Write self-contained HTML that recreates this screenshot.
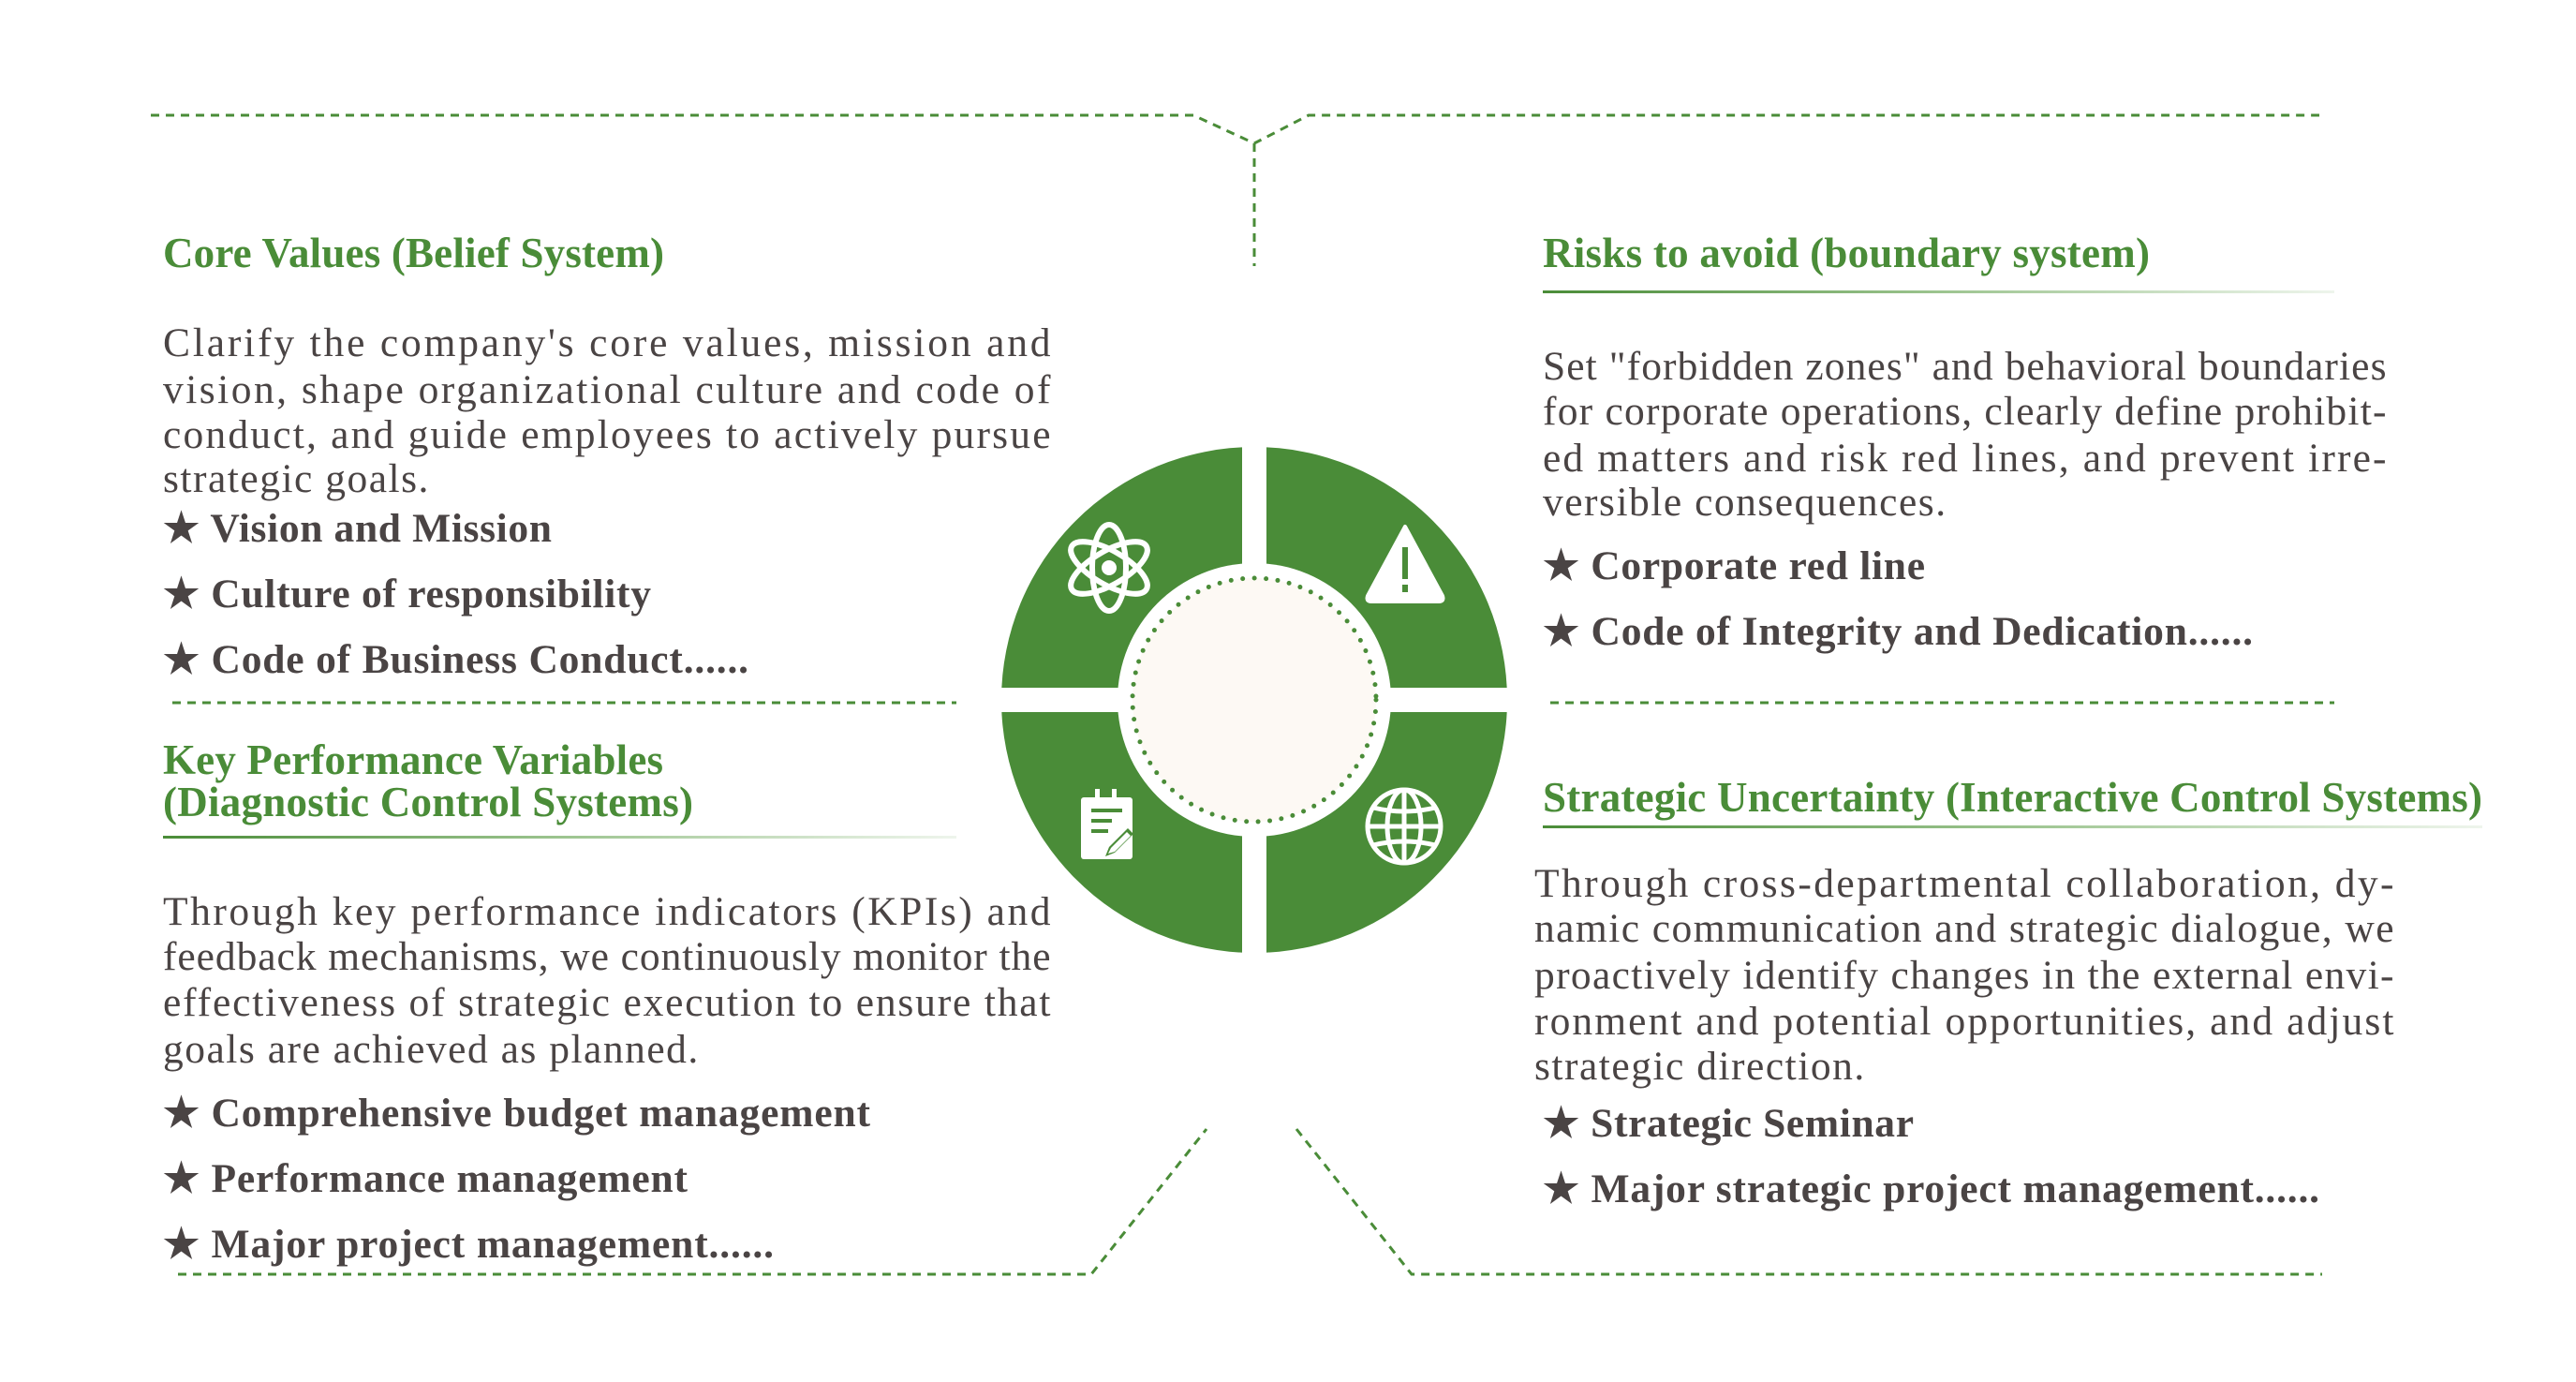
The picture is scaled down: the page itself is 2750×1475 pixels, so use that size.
<!DOCTYPE html>
<html><head><meta charset="utf-8"><style>
html,body{margin:0;padding:0;background:#fff;}
svg{display:block;}
text{font-family:"Liberation Serif",serif;}
.t{font-size:45px;font-weight:bold;fill:#4a8c38;}
.b{font-size:43.5px;fill:#4a4444;letter-spacing:1.5px;}
.s{font-size:43.5px;font-weight:bold;fill:#4a4444;}
.d{fill:none;stroke:#4a8c38;stroke-width:3;stroke-dasharray:9 7;}
</style></head><body>
<svg width="2750" height="1475" viewBox="0 0 2750 1475" xmlns="http://www.w3.org/2000/svg">
<defs>
<linearGradient id="ul" x1="0" x2="1" y1="0" y2="0"><stop offset="0" stop-color="#4a8c38"/><stop offset="0.5" stop-color="#9cc48f"/><stop offset="1" stop-color="#eef5ec"/></linearGradient>
</defs>
<polyline class="d" points="161,123 1274,123 1339,153 1397,123 2476,123"/>
<line class="d" x1="1339" y1="153" x2="1339" y2="284"/>
<line class="d" x1="184" y1="750" x2="1021" y2="750" stroke-width="2"/>
<line class="d" x1="1655" y1="750" x2="2492" y2="750" stroke-width="2"/>
<polyline class="d" points="190,1360 1165,1360 1288,1205"/>
<polyline class="d" points="1384,1205 1507,1360 2479,1360"/>
<rect x="1647" y="310" width="845" height="3" fill="url(#ul)"/>
<rect x="174" y="892" width="847" height="3" fill="url(#ul)"/>
<rect x="1647" y="881" width="1003" height="3" fill="url(#ul)"/>

<circle cx="1339" cy="747" r="270" fill="#4a8c38"/>
<rect x="1326" y="470" width="26" height="560" fill="#fff"/>
<rect x="1060" y="734" width="560" height="26" fill="#fff"/>
<circle cx="1339" cy="747" r="146" fill="#fff"/>
<circle cx="1339" cy="747" r="130" fill="#fdf9f4" stroke="#4a8c38" stroke-width="5" stroke-dasharray="0 12.5" stroke-linecap="round"/>

<g transform="translate(1184,606)" fill="none" stroke="#fff" stroke-width="6">
<ellipse rx="18" ry="46"/>
<ellipse rx="18" ry="46" transform="rotate(60)"/>
<ellipse rx="18" ry="46" transform="rotate(-60)"/>
<circle r="5" fill="#fff"/>
</g>
<g transform="translate(1500,606)">
<path d="M0,-44 L40,30 Q42,36 36,36 L-36,36 Q-42,36 -40,30 Z" fill="#fff" stroke="#fff" stroke-width="4" stroke-linejoin="round"/>
<rect x="-3" y="-22" width="6" height="34" fill="#4a8c38"/>
<rect x="-3" y="18" width="6" height="8" fill="#4a8c38"/>
</g>
<g transform="translate(1182,884)">
<rect x="-28" y="-33" width="55" height="66" rx="3" fill="#fff"/>
<rect x="-13" y="-42" width="5" height="12" fill="#fff"/>
<rect x="5" y="-42" width="5" height="12" fill="#fff"/>
<rect x="-17" y="-21" width="33" height="4" fill="#4a8c38"/>
<rect x="-17" y="-10" width="22" height="4" fill="#4a8c38"/>
<rect x="-17" y="1" width="18" height="4" fill="#4a8c38"/>
<path d="M-2,30 L2,20 L22,0 L28,6 L8,26 Z" fill="#4a8c38"/>
<path d="M1,27 L4,21 L21,4 L25,8 L8,25 Z" fill="#fff"/>
</g>
<g transform="translate(1499,882)" fill="none" stroke="#fff" stroke-width="5">
<circle r="39"/>
<ellipse rx="18" ry="39"/>
<line x1="0" y1="-39" x2="0" y2="39"/>
<line x1="-39" y1="0" x2="39" y2="0"/>
<path d="M-33,-20 Q0,-12 33,-20"/>
<path d="M-33,20 Q0,12 33,20"/>
</g>

<text class="t" x="174" y="285" textLength="535">Core Values (Belief System)</text>
<text class="b" x="174" y="380" textLength="949" lengthAdjust="spacing">Clarify the company's core values, mission and</text>
<text class="b" x="174" y="430" textLength="949" lengthAdjust="spacing">vision, shape organizational culture and code of</text>
<text class="b" x="174" y="478" textLength="949" lengthAdjust="spacing">conduct, and guide employees to actively pursue</text>
<text class="b" x="174" y="525">strategic goals.</text>
<text class="s" x="174" y="578" textLength="415">★ Vision and Mission</text>
<text class="s" x="174" y="648" textLength="521">★ Culture of responsibility</text>
<text class="s" x="174" y="718" textLength="625">★ Code of Business Conduct......</text>

<text class="t" x="174" y="826" textLength="534">Key Performance Variables</text>
<text class="t" x="174" y="871" textLength="566">(Diagnostic Control Systems)</text>
<text class="b" x="174" y="987" textLength="949" lengthAdjust="spacing">Through key performance indicators (KPIs) and</text>
<text class="b" x="174" y="1035" textLength="949" lengthAdjust="spacing">feedback mechanisms, we continuously monitor the</text>
<text class="b" x="174" y="1084" textLength="949" lengthAdjust="spacing">effectiveness of strategic execution to ensure that</text>
<text class="b" x="174" y="1134">goals are achieved as planned.</text>
<text class="s" x="174" y="1202" textLength="755">★ Comprehensive budget management</text>
<text class="s" x="174" y="1272" textLength="560">★ Performance management</text>
<text class="s" x="174" y="1342" textLength="652">★ Major project management......</text>

<text class="t" x="1647" y="285" textLength="648">Risks to avoid (boundary system)</text>
<text class="b" x="1647" y="405" textLength="902" lengthAdjust="spacing">Set "forbidden zones" and behavioral boundaries</text>
<text class="b" x="1647" y="453" textLength="902" lengthAdjust="spacing">for corporate operations, clearly define prohibit-</text>
<text class="b" x="1647" y="503" textLength="902" lengthAdjust="spacing">ed matters and risk red lines, and prevent irre-</text>
<text class="b" x="1647" y="550">versible consequences.</text>
<text class="s" x="1647" y="618" textLength="408">★ Corporate red line</text>
<text class="s" x="1647" y="688" textLength="758">★ Code of Integrity and Dedication......</text>

<text class="t" x="1647" y="866" textLength="1003">Strategic Uncertainty (Interactive Control Systems)</text>
<text class="b" x="1638" y="957" textLength="919" lengthAdjust="spacing">Through cross-departmental collaboration, dy-</text>
<text class="b" x="1638" y="1005" textLength="919" lengthAdjust="spacing">namic communication and strategic dialogue, we</text>
<text class="b" x="1638" y="1055" textLength="919" lengthAdjust="spacing">proactively identify changes in the external envi-</text>
<text class="b" x="1638" y="1104" textLength="919" lengthAdjust="spacing">ronment and potential opportunities, and adjust</text>
<text class="b" x="1638" y="1152">strategic direction.</text>
<text class="s" x="1647" y="1213" textLength="396">★ Strategic Seminar</text>
<text class="s" x="1647" y="1283" textLength="829">★ Major strategic project management......</text>
</svg>
</body></html>
